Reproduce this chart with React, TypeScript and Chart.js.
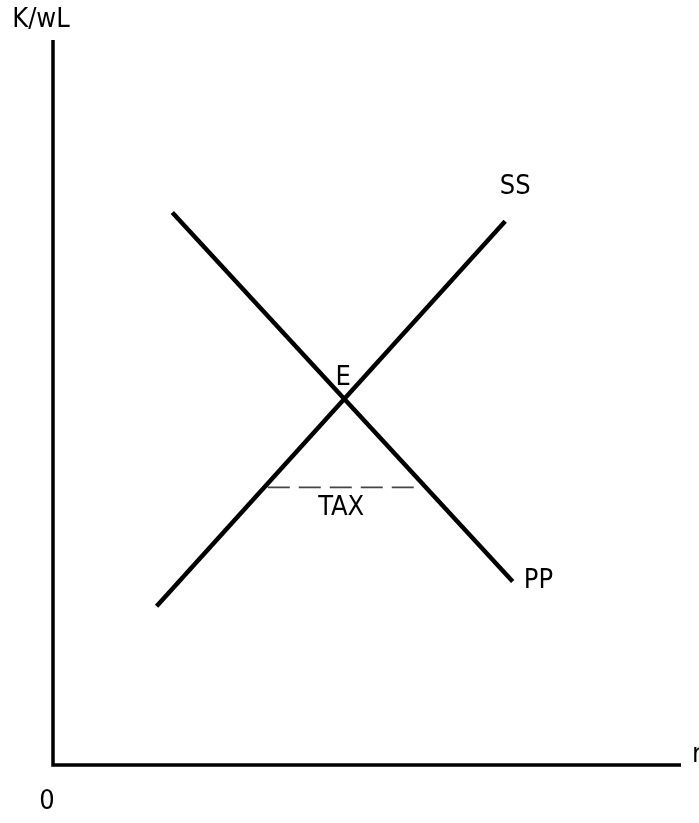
import React, { useEffect, useRef } from "react";
import { Chart, registerables } from "chart.js";

Chart.register(...registerables);

// Curves (data units: 0..100 on both axes)
const ppLine = [
  { x: 19, y: 76.2 },
  { x: 73.2, y: 25.3 },
];
const ssLine = [
  { x: 16.5, y: 21.9 },
  { x: 72, y: 75 },
];
const taxLine = [
  { x: 34.2, y: 38.3 },
  { x: 58.9, y: 38.3 },
];

// In-plot text labels
const curveLabels = ["E", "SS", "PP", "TAX"];
const curveLabelX = [46.2, 73.6, 77.3, 45.9];
const curveLabelY = [53.4, 79.7, 25.4, 35.5];

const yAxisTitle = "K/wL";
const xAxisTitle = "r";
const originLabel = "0";

const FONT = "27px 'Liberation Sans Narrow', 'DejaVu Sans Condensed', sans-serif";

const overlayPlugin = {
  id: "overlay",
  afterDatasetsDraw(chart: any) {
    const { ctx, chartArea, scales } = chart;
    const xs = scales.x;
    const ys = scales.y;
    ctx.save();
    // axes
    ctx.strokeStyle = "#000";
    ctx.lineWidth = 3.5;
    ctx.lineCap = "butt";
    ctx.beginPath();
    ctx.moveTo(chartArea.left, chartArea.top);
    ctx.lineTo(chartArea.left, chartArea.bottom);
    ctx.lineTo(chartArea.right, chartArea.bottom);
    ctx.stroke();

    ctx.fillStyle = "#000";
    ctx.font = FONT;
    ctx.textAlign = "center";
    ctx.textBaseline = "middle";
    curveLabels.forEach((t, i) => {
      ctx.fillText(t, xs.getPixelForValue(curveLabelX[i]), ys.getPixelForValue(curveLabelY[i]));
    });
    // axis titles
    ctx.fillText(yAxisTitle, chartArea.left - 12, chartArea.top - 20);
    ctx.fillText(originLabel, chartArea.left - 6, chartArea.bottom + 37);
    ctx.textAlign = "left";
    ctx.fillText(xAxisTitle, chartArea.right + 11, chartArea.bottom - 10);
    ctx.restore();
  },
};

export default function App() {
  const ref = useRef<HTMLCanvasElement>(null);
  useEffect(() => {
    document.body.style.margin = "0";
    const chart = new Chart(ref.current!, {
      type: "scatter",
      data: {
        datasets: [
          {
            data: ppLine,
            showLine: true,
            borderColor: "#000",
            borderWidth: 4.5,
            pointRadius: 0,
          },
          {
            data: ssLine,
            showLine: true,
            borderColor: "#000",
            borderWidth: 4.5,
            pointRadius: 0,
          },
          {
            data: taxLine,
            showLine: true,
            borderColor: "#444",
            borderWidth: 1.8,
            borderDash: [22, 9],
            pointRadius: 0,
          },
        ],
      },
      options: {
        animation: false,
        responsive: false,
        maintainAspectRatio: false,
        layout: { padding: { left: 53, top: 40, right: 18, bottom: 58 } },
        plugins: { legend: { display: false }, tooltip: { enabled: false } },
        scales: {
          x: { type: "linear", min: 0, max: 100, display: false },
          y: { type: "linear", min: 0, max: 100, display: false },
        },
      },
      plugins: [overlayPlugin],
    });
    return () => chart.destroy();
  }, []);
  return (
    <div style={{ width: 699, height: 823, background: "#fff" }}>
      <canvas ref={ref} width={699} height={823} />
    </div>
  );
}
